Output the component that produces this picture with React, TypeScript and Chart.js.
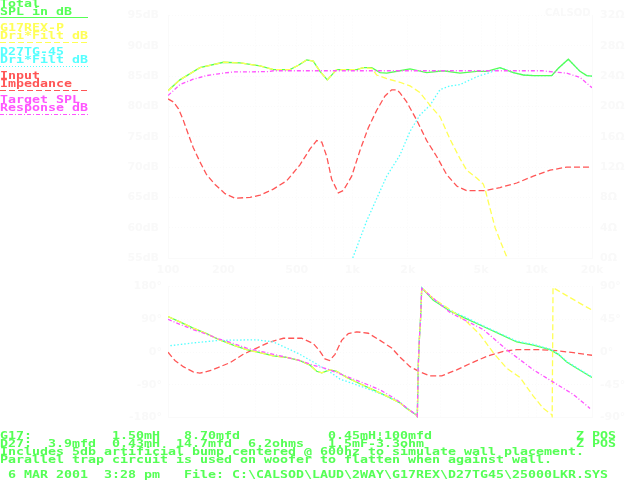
import React, { useEffect, useRef } from "react";
import { Chart, registerables } from "chart.js";

Chart.register(...registerables);

// ---------- colours ----------
const C_GREEN = "#55ff55";
const C_YELLOW = "#ffff55";
const C_CYAN = "#55ffff";
const C_RED = "#ff5555";
const C_MAGENTA = "#ff55ff";
const FAINT_TEXT = "#f9f9f9";
const FAINT_GRID = "#fafafa";

// ---------- axes ----------
const X_MIN = 100;
const X_MAX = 20000;
const X_GRID = [100, 200, 300, 400, 500, 600, 700, 800, 900, 1000, 2000, 3000, 4000, 5000, 6000, 7000, 8000, 9000, 10000, 20000];
const X_LABEL_VALUES = [100, 200, 500, 1000, 2000, 5000, 10000, 20000];
const X_LABEL_TEXT = ["100", "200", "500", "1k", "2k", "5k", "10k", "20k"];

const SPL_MIN = 55, SPL_MAX = 95, SPL_STEP = 5;
const OHM_MIN = 0, OHM_MAX = 32, OHM_STEP = 4;
const PH_MIN = -180, PH_MAX = 180, PH_STEP = 90;
const ZPH_MIN = -90, ZPH_MAX = 90, ZPH_STEP = 45;

// ---------- top panel: SPL (dB) and impedance (ohm) ----------
const TOTAL_F = [100, 116, 149, 200, 246, 316, 373, 459, 510, 566, 614, 668, 732, 823, 1057, 1148, 1275, 1414, 1538, 1815, 2058, 2535, 3120, 3843, 4734, 5364, 6335, 7482, 8477, 9605, 12090, 13130, 14875, 17215, 18725, 20000];
const TOTAL_DB = [82.6, 84.4, 86.4, 87.3, 87.2, 86.7, 86.1, 86.1, 86.8, 87.7, 87.5, 85.8, 84.4, 86.1, 86.1, 86.4, 86.4, 85.6, 85.5, 85.9, 86.2, 85.6, 85.9, 85.5, 85.8, 85.8, 86.4, 85.6, 85.2, 85.1, 85.1, 86.3, 87.8, 85.8, 85.1, 85.0];

const WOOFER_F = [100, 116, 149, 200, 246, 316, 373, 459, 510, 566, 614, 668, 732, 823, 1057, 1148, 1275, 1357, 1538, 1815, 2058, 2331, 2642, 2994, 3392, 3843, 4178, 4734, 5142, 5253, 5592, 5960, 6335, 6887];
const WOOFER_DB = [82.6, 84.4, 86.4, 87.3, 87.2, 86.7, 86.1, 86.1, 86.8, 87.7, 87.5, 85.8, 84.4, 86.1, 86.1, 86.4, 86.3, 85.2, 84.6, 84.0, 83.4, 82.3, 80.2, 78.3, 74.6, 71.4, 69.5, 68.2, 67.2, 66.4, 63.2, 60.0, 57.9, 55.2];

const TWEETER_F = [1006, 1197, 1538, 1815, 2058, 2331, 2642, 2994, 3392, 3843, 4355, 4914, 5592, 6335, 7482, 8477, 9605, 12090, 13130, 14875, 17215, 18725, 20000];
const TWEETER_DB = [55.0, 61.1, 68.5, 72.0, 75.9, 78.6, 80.2, 82.8, 83.4, 83.6, 84.4, 85.1, 85.6, 86.4, 85.6, 85.2, 85.1, 85.1, 86.3, 87.8, 85.8, 85.1, 85.0];

const IMP_F = [100, 107, 114, 121, 129, 137, 149, 162, 180, 204, 231, 279, 316, 373, 441, 520, 590, 641, 683, 727, 773, 840, 894, 993, 1101, 1222, 1357, 1506, 1637, 1750, 1815, 1974, 2237, 2535, 2872, 3254, 3688, 4178, 5253, 6335, 7806, 9605, 11834, 14580, 20000];
const IMP_OHM = [21.0, 20.6, 19.7, 18.2, 16.3, 14.6, 12.7, 11.0, 9.7, 8.5, 7.9, 8.0, 8.3, 9.1, 10.2, 12.3, 14.4, 15.5, 15.3, 13.4, 10.4, 8.6, 8.9, 10.8, 14.2, 17.2, 19.5, 21.4, 22.2, 22.2, 21.8, 20.6, 18.2, 15.5, 13.4, 11.0, 9.5, 8.9, 8.9, 9.3, 9.9, 10.8, 11.6, 12.0, 12.0];

const TARGET_F = [100, 116, 137, 162, 188, 226, 353, 373, 10670, 12330, 14580, 17215, 20000];
const TARGET_DB = [81.8, 83.6, 84.5, 85.1, 85.4, 85.7, 85.75, 85.9, 85.9, 85.7, 85.5, 84.8, 83.1];

// ---------- bottom panel: phase (deg) ----------
const TOTAL_PH_F = [100, 116, 137, 162, 188, 226, 267, 316, 373, 441, 520, 590, 641, 683, 754, 823, 933, 1101, 1301, 1538, 1815, 1974, 2237, 2254, 2282, 2311, 2352, 2382, 2754, 3392, 4178, 5142, 6335, 7806, 9605, 11834, 13130, 14580, 16520, 20000];
const TOTAL_PH = [97.5, 83, 65.9, 50.6, 34.5, 19.2, 6.4, -2.0, -10.7, -14.8, -23.5, -36.2, -53.1, -57.4, -49.0, -53.1, -70.2, -87.3, -104.1, -121.3, -139.9, -155.2, -174, -178, -36, 32, 100, 176.7, 142.5, 112.9, 91.4, 70.2, 49.0, 27.6, 19.2, 6.4, -6.4, -27.6, -44.7, -70.2];

const WOOFER_PH_F = [100, 116, 137, 162, 188, 226, 267, 316, 373, 441, 520, 590, 641, 683, 754, 823, 933, 1101, 1301, 1538, 1815, 1974, 2237, 2254, 2282, 2311, 2352, 2382, 2754, 3392, 4178, 4914, 5827, 6887, 8135, 9605, 10885, 12090, 12160, 12290, 12490, 14580, 17215, 20000];
const WOOFER_PH = [97.5, 83, 65.9, 50.6, 34.5, 19.2, 6.4, -2.0, -10.7, -14.8, -23.5, -36.2, -53.1, -57.4, -49.0, -53.1, -70.2, -87.3, -104.1, -121.3, -139.9, -155.2, -174, -178, -36, 32, 100, 176.7, 146.8, 117, 83, 49, -2, -44.7, -70.2, -121.3, -155.2, -172.3, -178, 178, 175, 155.2, 134.0, 115.4];

const TWEETER_PH_F = [103, 137, 188, 303, 373, 441, 520, 614, 727, 858, 1013, 1197, 1538, 1815, 1974, 2237, 2254, 2282, 2311, 2352, 2382, 2754, 3392, 4178, 5142, 6335, 7806, 9605, 11834, 13130, 14580, 16520, 20000];
const TWEETER_PH = [17.4, 25.0, 31.9, 33.7, 27.6, 10.7, -6.4, -27.6, -49.0, -74.5, -87.3, -100.1, -121.3, -138.4, -154, -174, -178, -36, 32, 100, 177, 145, 115, 94, 72, 51, 30, 21, 8, -5, -26, -43, -69];

const TARGET_PH_F = [100, 116, 137, 162, 188, 226, 267, 316, 373, 441, 520, 614, 727, 858, 1013, 1197, 1414, 1670, 1815, 1974, 2237, 2254, 2282, 2311, 2352, 2382, 3392, 5142, 6887, 9605, 12330, 15840, 19510];
const TARGET_PH = [89.9, 76.2, 61.8, 49.0, 36.3, 23.5, 10.7, 2.0, -6.4, -14.8, -23.5, -36.2, -46.5, -60.0, -74.5, -88.8, -104.1, -125.6, -138.4, -154, -174, -178, -36, 32, 100, 174.9, 108.5, 61.8, 6.4, -49, -83, -116.9, -155.2];

const IMP_PH_F = [100, 109, 121, 137, 149, 169, 188, 217, 256, 303, 358, 423, 531, 614, 668, 711, 754, 806, 876, 952, 1057, 1222, 1414, 1637, 1815, 2058, 2331, 2642, 3058, 3688, 4355, 5364, 6602, 7806, 10440, 12870, 15840, 20000];
const IMP_PH = [-0.3, -11.7, -20.2, -27.4, -29.1, -25.8, -21.1, -14.7, -3.2, 5.4, 13.8, 18.9, 18.9, 11.7, 1.0, -9.6, -11.7, -3.2, 16.0, 25.3, 27.8, 25.8, 16.0, 5.4, -7, -20.2, -27.4, -32.9, -32.9, -24.5, -16, -6.1, 1.0, 3.2, 3.2, 1.9, -1.0, -4.5];

// ---------- texts ----------
const LEGEND_LINES = [
  ["Total", "SPL in dB"],
  ["G17REX-P", "Dri*Filt dB"],
  ["D27TG-45", "Dri*Filt dB"],
  ["Input", "Impedance"],
  ["Target SPL", "Response dB"],
];
const LEGEND_COLORS = [C_GREEN, C_YELLOW, C_CYAN, C_RED, C_MAGENTA];
const LEGEND_DASH = ["", "6 3", "1 2", "6 3", "4 2 1 2"];

const FOOTER_ROWS: [number, string][][] = [
  [[0, "G17:"], [14, "1.50mH"], [23, "8.70mfd"], [41, "0.45mH¦100mfd"], [72, "Z POS"]],
  [[0, "D27:"], [6, "3.9mfd"], [14, "0.43mH"], [22, "14.7mfd"], [31, "6.2ohms"], [41, "1.5mF-3.3ohm"], [72, "Z POS"]],
  [[0, "Includes 5db artificial bump centered @ 600hz to simulate wall placement."]],
  [[0, "Parallel trap circuit is used on woofer to flatten when against wall."]],
  [[1, "6 MAR 2001"], [13, "3:28 pm"], [23, "File: C:\\CALSOD\\LAUD\\2WAY\\G17REX\\D27TG45\\25000LKR.SYS"]],
];
const FOOTER_TOPS = [432, 440, 448, 456, 471];

// ---------- helpers ----------
const pts = (f: number[], v: number[]) => f.map((x, i) => ({ x, y: v[i] }));

const line = (label: string, f: number[], v: number[], color: string, dash: number[], axis: string) => ({
  label,
  data: pts(f, v),
  borderColor: color,
  backgroundColor: color,
  borderWidth: 1.3,
  borderDash: dash,
  pointRadius: 0,
  tension: 0,
  fill: false,
  yAxisID: axis,
});

const labelFont = { family: "'DejaVu Sans', sans-serif", size: 11, weight: "bold" as const };

const xScale = (showLabels: boolean, height: number) => ({
  type: "logarithmic" as const,
  min: X_MIN,
  max: X_MAX,
  afterBuildTicks: (s: any) => {
    s.ticks = X_GRID.map((value) => ({ value }));
  },
  afterFit: (s: any) => {
    s.height = height;
  },
  ticks: {
    display: showLabels,
    autoSkip: false,
    maxRotation: 0,
    color: FAINT_TEXT,
    font: labelFont,
    padding: 6,
    callback: (v: any) => {
      const i = X_LABEL_VALUES.indexOf(Number(v));
      return i >= 0 ? X_LABEL_TEXT[i] : "";
    },
  },
  grid: { color: FAINT_GRID, drawTicks: false },
  border: { color: FAINT_GRID, dash: [1, 2] },
});

const yScale = (pos: "left" | "right", min: number, max: number, step: number, suffix: string, width: number, pad: number, gridOnChart: boolean) => ({
  type: "linear" as const,
  position: pos,
  min,
  max,
  afterFit: (s: any) => {
    s.width = width;
  },
  ticks: {
    stepSize: step,
    color: FAINT_TEXT,
    font: labelFont,
    padding: pad,
    callback: (v: any) => `${v}${suffix}`,
  },
  grid: { color: FAINT_GRID, drawTicks: false, drawOnChartArea: gridOnChart },
  border: { color: FAINT_GRID, dash: [1, 2] },
});

const baseOptions = {
  responsive: false,
  animation: false as const,
  events: [] as any[],
  plugins: { legend: { display: false }, tooltip: { enabled: false } },
};

const makeTop = () => ({
  type: "line" as const,
  data: {
    datasets: [
      line("Target SPL Response dB", TARGET_F, TARGET_DB, C_MAGENTA, [4, 2, 1, 2], "y"),
      line("G17REX-P Dri*Filt dB", WOOFER_F, WOOFER_DB, C_YELLOW, [6, 3], "y"),
      line("Total SPL in dB", TOTAL_F, TOTAL_DB, C_GREEN, [], "y"),
      line("D27TG-45 Dri*Filt dB", TWEETER_F, TWEETER_DB, C_CYAN, [1.5, 2], "y"),
      line("Input Impedance", IMP_F, IMP_OHM, C_RED, [6, 3], "y1"),
    ],
  },
  options: {
    ...baseOptions,
    layout: { padding: { top: 7, left: 0, right: 0, bottom: 0 } },
    scales: {
      x: xScale(true, 22),
      y: yScale("left", SPL_MIN, SPL_MAX, SPL_STEP, "dB", 168, 9, true),
      y1: yScale("right", OHM_MIN, OHM_MAX, OHM_STEP, "Ω", 48, 8, false),
    },
  },
});

const makeBottom = () => ({
  type: "line" as const,
  data: {
    datasets: [
      line("Target phase", TARGET_PH_F, TARGET_PH, C_MAGENTA, [4, 2, 1, 2], "y"),
      line("G17REX-P phase", WOOFER_PH_F, WOOFER_PH, C_YELLOW, [6, 3], "y"),
      line("D27TG-45 phase", TWEETER_PH_F, TWEETER_PH, C_CYAN, [1.5, 2], "y"),
      line("Total phase", TOTAL_PH_F, TOTAL_PH, C_GREEN, [], "y"),
      line("Impedance phase", IMP_PH_F, IMP_PH, C_RED, [6, 3], "y1"),
    ],
  },
  options: {
    ...baseOptions,
    layout: { padding: { top: 10, left: 0, right: 0, bottom: 0 } },
    scales: {
      x: xScale(false, 9),
      y: yScale("left", PH_MIN, PH_MAX, PH_STEP, "°", 168, 6, true),
      y1: yScale("right", ZPH_MIN, ZPH_MAX, ZPH_STEP, "°", 48, 8, false),
    },
  },
});

function ChartCanvas({ top, height, make }: { top: number; height: number; make: () => any }) {
  const ref = useRef<HTMLCanvasElement>(null);
  useEffect(() => {
    const chart = new Chart(ref.current as HTMLCanvasElement, make());
    return () => chart.destroy();
  }, []);
  return (
    <canvas
      ref={ref}
      width={640}
      height={height}
      style={{ position: "absolute", left: 0, top, width: 640, height, display: "block" }}
    />
  );
}

const monoStyle: React.CSSProperties = {
  position: "absolute",
  fontFamily: "'DejaVu Sans Mono', monospace",
  fontWeight: "bold",
  fontSize: 10,
  lineHeight: "8px",
  whiteSpace: "pre",
  transform: "scaleX(1.329)",
  transformOrigin: "0 0",
  margin: 0,
};

const buildRow = (parts: [number, string][]) => {
  let s = "";
  parts.forEach(([col, text]) => {
    s = s.padEnd(col, " ") + text;
  });
  return s;
};

export default function App() {
  const legendTops = [0, 24, 48, 72, 96];
  const legendLineY = [17, 42, 66, 90, 114];
  return (
    <div
      style={{
        position: "fixed",
        left: 0,
        top: 0,
        width: 640,
        height: 480,
        background: "#ffffff",
        overflow: "hidden",
      }}
    >
      <ChartCanvas top={0} height={280} make={makeTop} />
      <ChartCanvas top={272} height={160} make={makeBottom} />

      <div
        style={{
          position: "absolute",
          left: 545,
          top: 8,
          color: FAINT_TEXT,
          fontFamily: "'DejaVu Sans', sans-serif",
          fontWeight: "bold",
          fontSize: 10,
          lineHeight: "10px",
        }}
      >
        CALSOD
      </div>

      {LEGEND_LINES.map((lines, i) => (
        <div key={i} style={{ ...monoStyle, left: 0, top: legendTops[i], color: LEGEND_COLORS[i] }}>
          {lines.join("\n")}
        </div>
      ))}
      <svg width={100} height={120} style={{ position: "absolute", left: 0, top: 0 }} shapeRendering="crispEdges">
        {LEGEND_COLORS.map((c, i) => (
          <line
            key={i}
            x1={0}
            x2={88}
            y1={legendLineY[i] + 0.5}
            y2={legendLineY[i] + 0.5}
            stroke={c}
            strokeWidth={1}
            strokeDasharray={LEGEND_DASH[i] || undefined}
          />
        ))}
      </svg>

      {FOOTER_ROWS.map((parts, i) => (
        <div key={i} style={{ ...monoStyle, left: 0, top: FOOTER_TOPS[i], color: C_GREEN }}>
          {buildRow(parts)}
        </div>
      ))}
    </div>
  );
}
